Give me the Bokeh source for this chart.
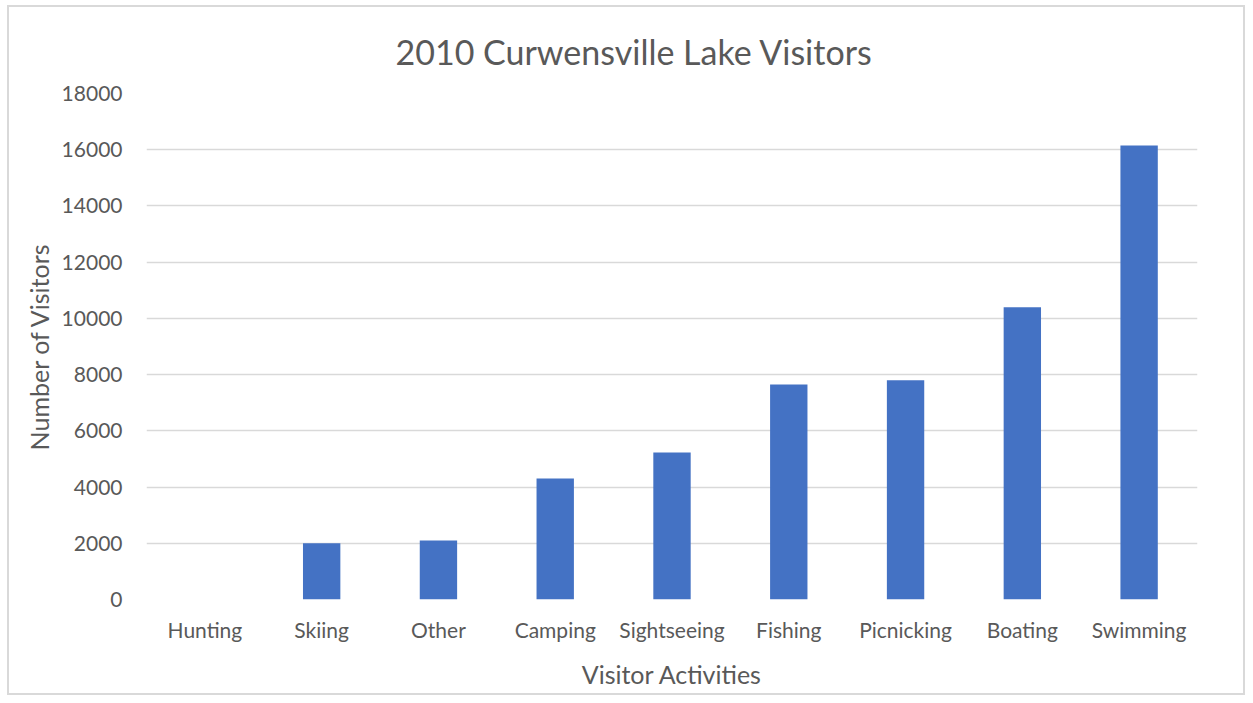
from bokeh.plotting import figure
from bokeh.layouts import row, column
from bokeh.models import FixedTicker, Spacer
from bokeh.embed import file_html
from bokeh.resources import INLINE

categories = ["Hunting", "Skiing", "Other", "Camping", "Sightseeing",
              "Fishing", "Picnicking", "Boating", "Swimming"]
visitors = [0, 2000, 2100, 4300, 5230, 7650, 7800, 10400, 16150]
y_ticks = [0, 2000, 4000, 6000, 8000, 10000, 12000, 14000, 16000, 18000]
title_text = "2010 Curwensville Lake Visitors"

FONT = "Lato"
GREY = "#595959"

p = figure(x_range=categories, y_range=(0, 18000),
           width=1238, height=690,
           output_backend="svg", toolbar_location=None,
           min_border_left=137, min_border_right=50,
           min_border_top=84, min_border_bottom=98)
p.styles = {"border": "2px solid #d9d9d9"}

p.vbar(x=categories, top=visitors, width=0.32,
       fill_color="#4472c4", line_color=None)

p.title.text = title_text
p.title.text_font = FONT
p.title.text_font_size = "34px"
p.title.text_font_style = "normal"
p.title.text_color = GREY
p.title.align = "left"
p.title.offset = 249
p.title.standoff = 43

p.outline_line_color = None
p.xgrid.grid_line_color = None
p.ygrid.grid_line_color = "#d9d9d9"
p.ygrid.grid_line_width = 1.5

p.yaxis.ticker = FixedTicker(ticks=y_ticks)
for ax in (p.xaxis, p.yaxis):
    ax.axis_line_color = None
    ax.major_tick_line_color = None
    ax.minor_tick_line_color = None
    ax.major_label_text_font = FONT
    ax.major_label_text_font_size = "21px"
    ax.major_label_text_color = GREY
    ax.axis_label_text_font = FONT
    ax.axis_label_text_font_size = "25px"
    ax.axis_label_text_font_style = "normal"
    ax.axis_label_text_color = GREY

p.xaxis.axis_label = "Visitor Activities"
p.yaxis.axis_label = "Number of Visitors"
p.yaxis.major_label_standoff = 18
p.xaxis.major_label_standoff = 11
p.yaxis.axis_label_standoff = 5
p.xaxis.axis_label_standoff = 14

layout = row(Spacer(width=7), column(Spacer(height=5), p))

open("out.html", "w").write(file_html(layout, INLINE))
